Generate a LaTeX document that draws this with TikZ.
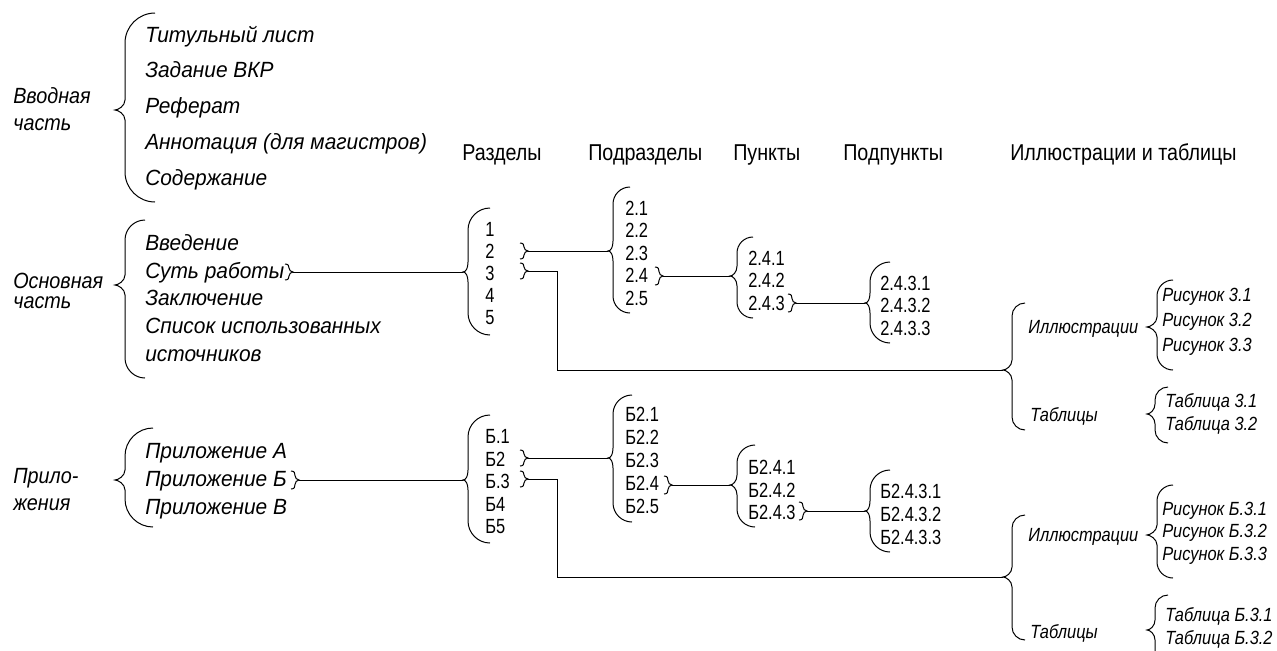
\documentclass[tikz,border=0pt]{standalone}
\usepackage{fontspec}
\setmainfont{Liberation Sans}
\newfontfamily\itff[FakeStretch=0.95]{Liberation Sans}
\newfontfamily\sitff[FakeStretch=0.86]{Liberation Sans}
\newfontfamily\lblff[FakeStretch=0.9]{Liberation Sans}
\newfontfamily\numff[FakeStretch=0.8]{Liberation Sans}
\newfontfamily\hdrff[FakeStretch=0.86]{Liberation Sans}
\tikzset{
  itm/.style={font=\itff\fontsize{16.5}{18}\selectfont\itshape, anchor=base west, inner sep=0pt},
  lbl/.style={font=\lblff\fontsize{16.5}{18}\selectfont\itshape, anchor=base west, inner sep=0pt},
  sit/.style={font=\sitff\fontsize{14.3}{16}\selectfont\itshape, anchor=base west, inner sep=0pt},
  num/.style={font=\numff\fontsize{15.4}{17}\selectfont, anchor=base west, inner sep=0pt},
  hdr/.style={font=\hdrff\fontsize{17.2}{19}\selectfont, anchor=base west, inner sep=0pt},
  brline/.style={line width=0.75pt, black},
  conn/.style={line width=0.75pt, black}
}
% big opening brace: #1 xe, #2 xv, #3 xtip, #4 ytop, #5 ytip, #6 ybottom, #7 name of tip
\newcommand{\bigbr}[7]{%
  \draw[brline] (#1,#4) .. controls ({#2+0.45*(#1-#2)},#4) and (#2,{#4+0.45*(#1-#2)}) .. (#2,{#4+(#1-#2)})
     -- (#2,#5-10) .. controls (#2,#5-4) and (#3+3,#5) .. (#3,#5)
     .. controls (#3+3,#5) and (#2,#5+4) .. (#2,#5+10)
     -- (#2,{#6-(#1-#2)}) .. controls (#2,{#6-0.45*(#1-#2)}) and ({#2+0.45*(#1-#2)},#6) .. (#1,#6);
  \coordinate (#7) at (#3,#5);}
% small closing brace: #1 x0, #2 y, #3 half height, #4 name of tip
\newcommand{\smbr}[4]{%
  \draw[brline] (#1,#2-#3) .. controls (#1+3.5,#2-#3) and (#1+4,#2-#3+2) .. (#1+4,{#2-#3/2})
     .. controls (#1+4,#2-2) and (#1+6,#2) .. (#1+8,#2)
     .. controls (#1+6,#2) and (#1+4,#2+2) .. (#1+4,{#2+#3/2})
     .. controls (#1+4,#2+#3-2) and (#1+3.5,#2+#3) .. (#1,#2+#3);
  \coordinate (#4) at (#1+8,#2);}
\begin{document}
\begin{tikzpicture}[x=0.75pt,y=-0.75pt]
\clip (0,0) rectangle (1277,650);
\fill[white] (0,0) rectangle (1277,650);

% ---------- headers
\node[hdr] (h1) at (462,160) {Разделы};
\node[hdr] (h2) at (588,160) {Подразделы};
\node[hdr] (h3) at (733,160) {Пункты};
\node[hdr] (h4) at (843,160) {Подпункты};
\node[hdr] (h5) at (1010,160) {Иллюстрации и таблицы};

% ---------- group 1
\node[lbl] (g1a) at (13,103) {Вводная};
\node[lbl] (g1b) at (13,130) {часть};
\bigbr{155}{125}{115}{13}{110}{202}{g1tip}
\node[itm] (g1i1) at (145,42) {Титульный лист};
\node[itm] (g1i2) at (145,77.5) {Задание ВКР};
\node[itm] (g1i3) at (145,113) {Реферат};
\node[itm] (g1i4) at (145,149) {Аннотация (для магистров)};
\node[itm] (g1i5) at (145,185) {Содержание};

% ---------- group 2
\node[lbl] (g2a) at (13,288) {Основная};
\node[lbl] (g2b) at (13,308) {часть};
\bigbr{145}{125}{115}{220}{285}{378}{g2tip}
\node[itm] (g2i1) at (145,250) {Введение};
\node[itm] (g2i2) at (145,278) {Суть работы};
\node[itm] (g2i3) at (145,305.5) {Заключение};
\node[itm] (g2i4) at (145,333.5) {Список использованных};
\node[itm] (g2i5) at (145,361.5) {источников};
\smbr{285}{272}{8}{sutbr}

% ---------- group 3
\node[lbl] (g3a) at (13,483) {Прило-};
\node[lbl] (g3b) at (13,510) {жения};
\bigbr{153}{125}{115}{428}{480}{527}{g3tip}
\node[itm] (g3i1) at (145,458) {Приложение А};
\node[itm] (g3i2) at (145,486) {Приложение Б};
\node[itm] (g3i3) at (145,514) {Приложение В};
\smbr{291}{480}{9}{prbbr}

% ---------- upper: razdely
\bigbr{490}{468}{463}{208}{272}{335}{rtip}
\node[num] (r1) at (485,236.5) {1};
\node[num] (r2) at (485,258.5) {2};
\node[num] (r3) at (485,280.5) {3};
\node[num] (r4) at (485,302.5) {4};
\node[num] (r5) at (485,324.5) {5};
\smbr{520}{251}{8}{r2br}
\smbr{520}{271}{8}{r3br}

% podrazdely
\bigbr{630}{613}{608}{187}{251}{313}{ptip}
\node[num] (p1) at (625,215) {2.1};
\node[num] (p2) at (625,237.5) {2.2};
\node[num] (p3) at (625,260) {2.3};
\node[num] (p4) at (625,282.5) {2.4};
\node[num] (p5) at (625,305) {2.5};
\smbr{655}{276}{9}{p4br}

% punkty
\bigbr{753}{737}{730}{237}{276}{318}{ktip}
\node[num] (k1) at (748,265) {2.4.1};
\node[num] (k2) at (748,287.5) {2.4.2};
\node[num] (k3) at (748,310) {2.4.3};
\smbr{788}{303}{9}{k3br}

% podpunkty
\bigbr{890}{870}{865}{262}{303}{343}{stip}
\node[num] (s1) at (880,290) {2.4.3.1};
\node[num] (s2) at (880,312.5) {2.4.3.2};
\node[num] (s3) at (880,335) {2.4.3.3};

% illustrations / tables (upper)
\bigbr{1025}{1012}{1003}{303}{370}{430}{atip}
\node[sit] (ai) at (1028,333) {Иллюстрации};
\node[sit] (at) at (1030,421) {Таблицы};
\bigbr{1173}{1157}{1147}{280}{327}{370}{aitip}
\node[sit] (ai1) at (1162,301) {Рисунок 3.1};
\node[sit] (ai2) at (1162,326) {Рисунок 3.2};
\node[sit] (ai3) at (1162,351) {Рисунок 3.3};
\bigbr{1168}{1155}{1147}{387}{414}{443}{attip}
\node[sit] (at1) at (1165,407) {Таблица 3.1};
\node[sit] (at2) at (1165,430) {Таблица 3.2};

% ---------- lower: razdely B
\bigbr{490}{468}{463}{415}{480}{543}{brtip}
\node[num] (br1) at (485,443.5) {Б.1};
\node[num] (br2) at (485,466) {Б2};
\node[num] (br3) at (485,488.5) {Б.3};
\node[num] (br4) at (485,511) {Б4};
\node[num] (br5) at (485,533.5) {Б5};
\smbr{520}{458}{8}{br2br}
\smbr{520}{479}{8}{br3br}

\bigbr{632}{613}{608}{395}{458}{522}{bptip}
\node[num] (bp1) at (625,421.5) {Б2.1};
\node[num] (bp2) at (625,444.5) {Б2.2};
\node[num] (bp3) at (625,467.5) {Б2.3};
\node[num] (bp4) at (625,490.5) {Б2.4};
\node[num] (bp5) at (625,513.5) {Б2.5};
\smbr{664}{485}{9}{bp4br}

\bigbr{755}{737}{730}{445}{485}{527}{bktip}
\node[num] (bk1) at (748,474.5) {Б2.4.1};
\node[num] (bk2) at (748,497) {Б2.4.2};
\node[num] (bk3) at (748,519.5) {Б2.4.3};
\smbr{799}{511}{9}{bk3br}

\bigbr{890}{870}{865}{470}{511}{552}{bstip}
\node[num] (bs1) at (880,498.5) {Б2.4.3.1};
\node[num] (bs2) at (880,521.5) {Б2.4.3.2};
\node[num] (bs3) at (880,544.5) {Б2.4.3.3};

\bigbr{1025}{1012}{1003}{515}{577}{640}{btip}
\node[sit] (bi) at (1028,541) {Иллюстрации};
\node[sit] (bt) at (1030,638) {Таблицы};
\bigbr{1173}{1157}{1147}{485}{535}{578}{bitip}
\node[sit] (bi1) at (1162,515) {Рисунок Б.3.1};
\node[sit] (bi2) at (1162,537.5) {Рисунок Б.3.2};
\node[sit] (bi3) at (1162,560) {Рисунок Б.3.3};
\bigbr{1168}{1155}{1147}{595}{630}{665}{bttip}
\node[sit] (bt1) at (1165,621) {Таблица Б.3.1};
\node[sit] (bt2) at (1165,644) {Таблица Б.3.2};

% ---------- connectors
\coordinate (rbend) at (557,370);
\coordinate (bbend) at (557,577);
\draw[conn] (sutbr) -- (rtip);
\draw[conn] (r2br) -- (ptip);
\draw[conn] (r3br) -| (rbend) -- (atip);
\draw[conn] (p4br) -- (ktip);
\draw[conn] (k3br) -- (stip);
\draw[conn] (prbbr) -- (brtip);
\draw[conn] (br2br) -- (bptip);
\draw[conn] (br3br) -| (bbend) -- (btip);
\draw[conn] (bp4br) -- (bktip);
\draw[conn] (bk3br) -- (bstip);
\end{tikzpicture}
\end{document}
